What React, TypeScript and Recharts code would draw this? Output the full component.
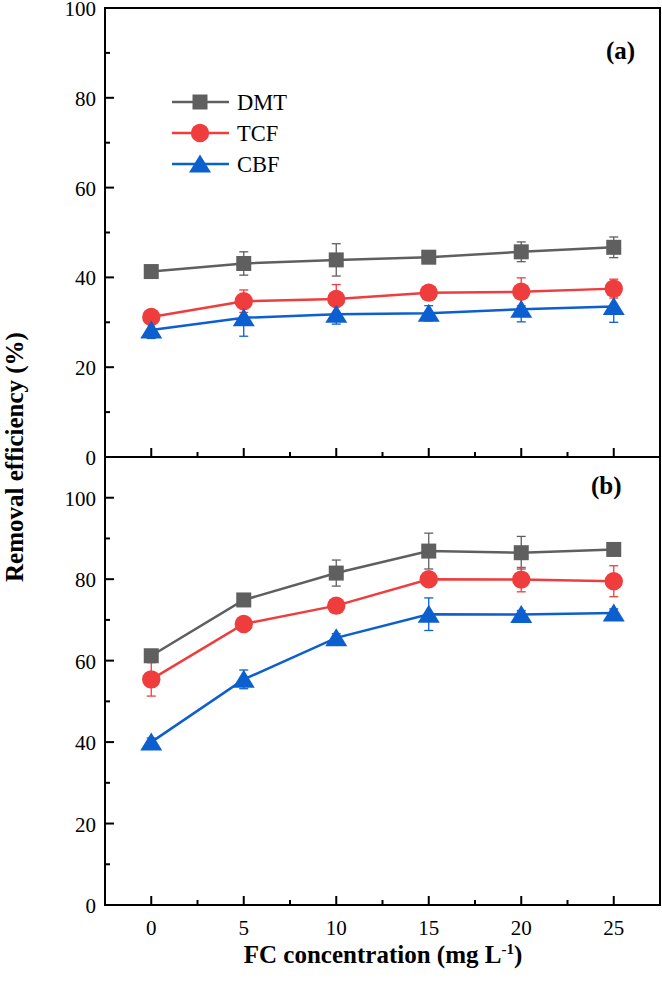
import React from "react";
import { LineChart, Line, XAxis, YAxis, ErrorBar, ReferenceArea } from "recharts";

const concentrations = [0, 5, 10, 15, 20, 25];

// Panel (a)
const dmtA = [41.3, 43.1, 43.9, 44.5, 45.7, 46.7];
const dmtAErr = [0.8, 2.6, 3.6, 0.8, 2.2, 2.3];
const tcfA = [31.2, 34.7, 35.2, 36.6, 36.8, 37.5];
const tcfAErr = [1.0, 2.5, 3.2, 1.0, 3.1, 2.1];
const cbfA = [28.3, 31.0, 31.8, 32.0, 32.9, 33.5];
const cbfAErr = [1.9, 4.1, 2.2, 1.7, 2.8, 3.5];

// Panel (b)
const dmtB = [61.2, 74.9, 81.5, 86.9, 86.5, 87.3];
const dmtBErr = [1.5, 1.0, 3.2, 4.4, 4.0, 1.0];
const tcfB = [55.4, 69.0, 73.5, 80.0, 79.9, 79.5];
const tcfBErr = [4.1, 1.0, 1.0, 1.5, 3.0, 3.8];
const cbfB = [40.0, 55.4, 65.6, 71.4, 71.3, 71.7];
const cbfBErr = [1.0, 2.3, 1.0, 4.0, 1.0, 1.0];

const xTicks = [0, 2.5, 5, 7.5, 10, 12.5, 15, 17.5, 20, 22.5, 25];
const yTicksA = [0, 10, 20, 30, 40, 50, 60, 70, 80, 90, 100];
const yTicksB = [0, 10, 20, 30, 40, 50, 60, 70, 80, 90, 100, 110];
const xDomain = [-2.5, 27.5];

const seriesNames = ["DMT", "TCF", "CBF"];
const COLORS: Record<string, string> = { DMT: "#5f5f5f", TCF: "#ef3d3d", CBF: "#0c5fcf" };
const FONT = "'Liberation Serif', 'Times New Roman', serif";

const buildRows = (d: number[], de: number[], t: number[], te: number[], c: number[], ce: number[]) =>
  concentrations.map((x, i) => ({
    x,
    DMT: d[i], DMTe: de[i],
    TCF: t[i], TCFe: te[i],
    CBF: c[i], CBFe: ce[i],
  }));

const dataA = buildRows(dmtA, dmtAErr, tcfA, tcfAErr, cbfA, cbfAErr);
const dataB = buildRows(dmtB, dmtBErr, tcfB, tcfBErr, cbfB, cbfBErr);

const Marker = ({ kind, cx, cy, color }: any) => {
  if (cx == null || cy == null) return null;
  if (kind === "DMT") return <rect x={cx - 7.5} y={cy - 7.5} width={15} height={15} fill={color} />;
  if (kind === "TCF") return <circle cx={cx} cy={cy} r={9.2} fill={color} />;
  return <polygon points={`${cx},${cy - 9.5} ${cx + 11},${cy + 8.5} ${cx - 11},${cy + 8.5}`} fill={color} />;
};

const makeDot = (kind: string) => (props: any) => (
  <Marker key={`${kind}-${props.index}`} kind={kind} cx={props.cx} cy={props.cy} color={COLORS[kind]} />
);

const XTick = (showLabel: boolean) => (props: any) => {
  const { x, y, payload } = props;
  const v = payload.value;
  const major = v % 5 === 0;
  return (
    <g>
      <line x1={x} x2={x} y1={y} y2={y - (major ? 9 : 5)} stroke="#000" strokeWidth={2} />
      {showLabel && major && (
        <text x={x} y={y + 30} textAnchor="middle" fontFamily={FONT} fontSize={21} fill="#000">
          {v}
        </text>
      )}
    </g>
  );
};

const YTick = (max: number) => (props: any) => {
  const { x, y, payload } = props;
  const v = payload.value;
  const major = v % 20 === 0;
  return (
    <g>
      {v !== max && v !== 0 && (
        <line x1={x} x2={x + (major ? 9 : 5)} y1={y} y2={y} stroke="#000" strokeWidth={2} />
      )}
      {major && v <= 100 && (
        <text x={x - 9} y={y + 8} textAnchor="end" fontFamily={FONT} fontSize={21} fill="#000">
          {v}
        </text>
      )}
    </g>
  );
};

const LegendBox = () => (
  <svg width={140} height={96} style={{ position: "absolute", left: 166, top: 88, overflow: "visible" }}>
    {seriesNames.map((name, i) => {
      const cy = 14 + i * 31;
      const color = COLORS[name];
      return (
        <g key={name}>
          <line x1={6} x2={63} y1={cy} y2={cy} stroke={color} strokeWidth={2.5} />
          <Marker kind={name} cx={34} cy={cy} color={color} />
          <text x={71} y={cy + 8} fontFamily={FONT} fontSize={22.5} fill="#000">
            {name}
          </text>
        </g>
      );
    })}
  </svg>
);

const renderSeries = () =>
  seriesNames.map((name) => (
    <Line
      key={name}
      type="linear"
      dataKey={name}
      stroke={COLORS[name]}
      strokeWidth={2.5}
      dot={makeDot(name)}
      activeDot={false}
      isAnimationActive={false}
    >
      <ErrorBar dataKey={`${name}e`} direction="y" width={4.5} stroke={COLORS[name]} strokeWidth={1.3} />
    </Line>
  ));

export default function App() {
  return (
    <div style={{ position: "absolute", left: 0, top: 0, width: 662, height: 983, background: "#fff", overflow: "hidden" }}>
      {/* Panel (b) */}
      <div style={{ position: "absolute", left: 0, top: 449 }}>
        <LineChart width={662} height={534} data={dataB} margin={{ top: 8, right: 2, bottom: 0, left: 0 }}>
          <XAxis
            dataKey="x"
            type="number"
            domain={xDomain}
            ticks={xTicks}
            interval={0}
            height={78}
            tickSize={0}
            tickMargin={0}
            tickLine={false}
            axisLine={{ stroke: "#000", strokeWidth: 2 }}
            tick={XTick(true)}
          />
          <YAxis
            type="number"
            domain={[0, 110]}
            ticks={yTicksB}
            interval={0}
            width={105}
            tickSize={0}
            tickMargin={0}
            tickLine={false}
            axisLine={{ stroke: "#000", strokeWidth: 2 }}
            tick={YTick(110)}
          />
          <ReferenceArea
            x1={xDomain[0]}
            x2={xDomain[1]}
            y1={0}
            y2={110}
            fill="none"
            fillOpacity={0}
            stroke="#000"
            strokeWidth={2}
            strokeOpacity={1}
            ifOverflow="visible"
          />
          {renderSeries()}
        </LineChart>
      </div>

      {/* Panel (a) */}
      <div style={{ position: "absolute", left: 0, top: -12 }}>
        <LineChart width={662} height={492} data={dataA} margin={{ top: 20, right: 2, bottom: 22, left: 0 }}>
          <XAxis
            dataKey="x"
            type="number"
            domain={xDomain}
            ticks={xTicks}
            interval={0}
            height={1}
            tickSize={0}
            tickMargin={0}
            tickLine={false}
            axisLine={{ stroke: "#000", strokeWidth: 2 }}
            tick={XTick(false)}
          />
          <YAxis
            type="number"
            domain={[0, 100]}
            ticks={yTicksA}
            interval={0}
            width={105}
            tickSize={0}
            tickMargin={0}
            tickLine={false}
            axisLine={{ stroke: "#000", strokeWidth: 2 }}
            tick={YTick(100)}
          />
          <ReferenceArea
            x1={xDomain[0]}
            x2={xDomain[1]}
            y1={0}
            y2={100}
            fill="none"
            fillOpacity={0}
            stroke="#000"
            strokeWidth={2}
            strokeOpacity={1}
            ifOverflow="visible"
          />
          {renderSeries()}
        </LineChart>
      </div>

      <LegendBox />

      {/* Panel labels */}
      <div style={{ position: "absolute", left: 606, top: 36, fontFamily: FONT, fontWeight: "bold", fontSize: 25, lineHeight: "30px" }}>
        (a)
      </div>
      <div style={{ position: "absolute", left: 591, top: 471, fontFamily: FONT, fontWeight: "bold", fontSize: 25, lineHeight: "30px" }}>
        (b)
      </div>

      {/* Axis titles */}
      <div
        style={{
          position: "absolute",
          left: 15,
          top: 457,
          transform: "translate(-50%, -50%) rotate(-90deg)",
          whiteSpace: "nowrap",
          fontFamily: FONT,
          fontWeight: "bold",
          fontSize: 25,
          lineHeight: "30px",
        }}
      >
        Removal efficiency (%)
      </div>
      <div
        style={{
          position: "absolute",
          left: 383,
          top: 955,
          transform: "translate(-50%, -50%)",
          whiteSpace: "nowrap",
          fontFamily: FONT,
          fontWeight: "bold",
          fontSize: 25,
          lineHeight: "30px",
        }}
      >
        FC concentration (mg L<sup style={{ fontSize: 15, verticalAlign: "9px", lineHeight: 0 }}>-1</sup>)
      </div>
    </div>
  );
}
